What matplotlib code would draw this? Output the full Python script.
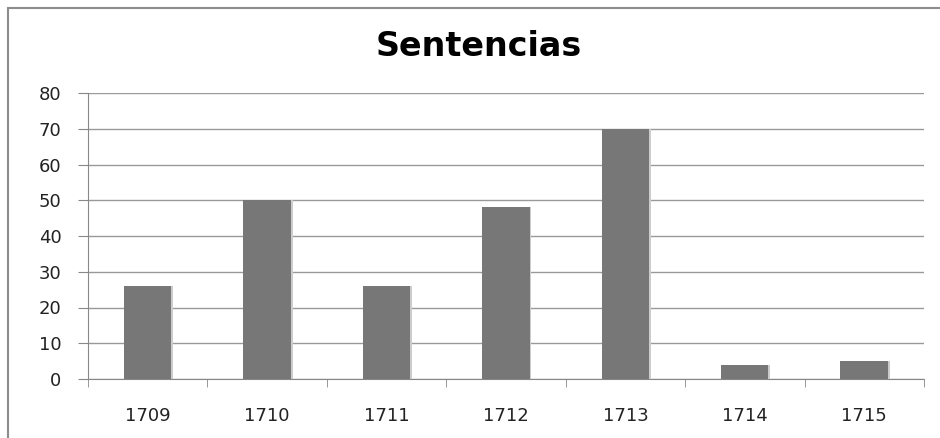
import matplotlib.pyplot as plt
from matplotlib.patches import Rectangle
import numpy as np

years = ['1709', '1710', '1711', '1712', '1713', '1714', '1715']
sentencias = [26, 50, 26, 48, 70, 4, 5]

fig = plt.figure(figsize=(9.4, 4.38), dpi=100)
fig.patch.set_facecolor('white')

# outer chart border (right and bottom edges fall outside the picture)
fig.patches.append(Rectangle((8 / 940, -0.05), 1.0, 1 - 8 / 438 + 0.05,
                             transform=fig.transFigure, fill=False,
                             edgecolor='#8c8c8c', linewidth=1.5))

ax = fig.add_axes([88 / 940, 1 - 379 / 438, (924 - 88) / 940, (379 - 93) / 438])

x = np.arange(len(years))
ax.bar(x, sentencias, width=0.4, color='#777777', edgecolor='none', zorder=3)
# light edge on the right side of each bar
ax.bar(x + 0.205, sentencias, width=0.015, color='#cccccc', edgecolor='none', zorder=3)

ax.set_xlim(-0.5, len(years) - 0.5)
ax.set_ylim(0, 80)
ax.set_yticks(range(0, 81, 10))
ax.set_xticks(x)
ax.set_xticklabels(years)
ax.set_xticks(np.arange(-0.5, len(years), 1), minor=True)
ax.tick_params(axis='x', which='major', length=0, pad=20, labelsize=13, labelcolor='#222222')
ax.tick_params(axis='x', which='minor', length=6, color='#888888', direction='out')
ax.tick_params(axis='y', length=7, color='#888888', direction='out', pad=12, labelsize=13,
               labelcolor='#222222')

ax.grid(axis='y', color='#999999', linewidth=1, zorder=0)
for s in ['top', 'right']:
    ax.spines[s].set_visible(False)
ax.spines['left'].set_color('#888888')
ax.spines['bottom'].set_color('#888888')

fig.text(479 / 940, 1 - 47 / 438, 'Sentencias', ha='center', va='center',
         fontsize=24, fontweight='bold', family='DejaVu Sans')

fig.savefig('out.png', dpi=100)
